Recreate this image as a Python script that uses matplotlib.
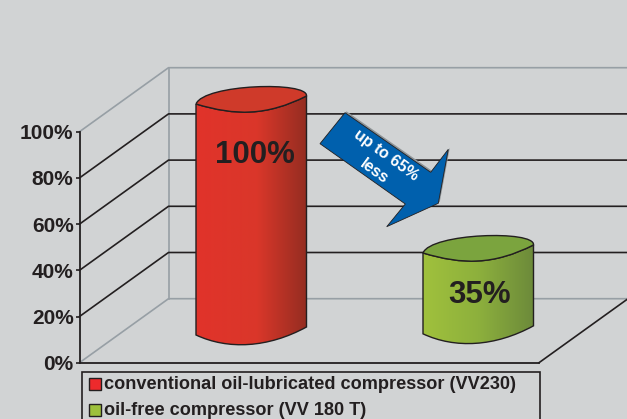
import numpy as np
import matplotlib
matplotlib.use("Agg")
from matplotlib import pyplot as plt
from matplotlib.path import Path
from matplotlib.patches import PathPatch, Polygon, Rectangle
from matplotlib.colors import LinearSegmentedColormap

plt.rcParams['font.family'] = ['Liberation Sans', 'DejaVu Sans']

series_names = ["conventional oil-lubricated compressor (VV230)", "oil-free compressor (VV 180 T)"]
series_values = [100, 35]
value_labels = ["100%", "35%"]
tick_values = [0, 20, 40, 60, 80, 100]
tick_labels = ["0%", "20%", "40%", "60%", "80%", "100%"]

BG = "#d1d3d4"
INK = "#231f20"
WALL = "#979fa5"

# x is in pixels, y in percent; SCALE is pixels per percent
Y0 = 362.7
SCALE = 2.31
DEPTH_X = 89
DEPTH_Y = 64 / SCALE
LEFT, FRONT_RIGHT, FIG_RIGHT = 79.5, 539, 628

fig = plt.figure(figsize=(6.27, 4.19), dpi=100, facecolor=BG)
ax = fig.add_axes([LEFT / 627, (419 - Y0) / 419, (FRONT_RIGHT - LEFT) / 627, SCALE * 100 / 419])
ax.patch.set_alpha(0)
for s in ["top", "right"]:
    ax.spines[s].set_visible(False)
for s in ["left", "bottom"]:
    ax.spines[s].set_linewidth(1.3)
    ax.spines[s].set_color(INK)
    ax.spines[s].set_zorder(3)

# back wall and side wall
back_x = LEFT + DEPTH_X
ax.plot([LEFT, back_x, FIG_RIGHT], [0, DEPTH_Y, DEPTH_Y], color=WALL, lw=1.2, clip_on=False, zorder=1)
ax.plot([LEFT, back_x, FIG_RIGHT], [100, 100 + DEPTH_Y, 100 + DEPTH_Y], color=WALL, lw=1.2, clip_on=False, zorder=1)
ax.plot([back_x, back_x], [DEPTH_Y, 100 + DEPTH_Y], color=WALL, lw=1.2, clip_on=False, zorder=1)
ax.plot([FRONT_RIGHT, FIG_RIGHT], [0, DEPTH_Y], color=INK, lw=1.2, clip_on=False, zorder=1)

# gridlines run along the side wall then across the back
for val in tick_values[1:-1]:
    ax.plot([LEFT, back_x, FIG_RIGHT], [val, val + DEPTH_Y, val + DEPTH_Y], color=INK, lw=1.2, clip_on=False, zorder=2)


def cylinder(x_left, base, value, side_cols, top_col, label, label_dy, label_dx):
    w = 110.5
    slant = 8 / SCALE
    xr = x_left + w
    top = base + value
    u = 1 / SCALE
    side = Path(
        [(x_left, top), (x_left, base),
         (x_left + 32, base - 15 * u), (x_left + 72, base - 13 * u), (xr, base + slant),
         (xr, top + slant),
         (xr - 40, top - 12 * u), (x_left + 40, top - 12 * u), (x_left, top)],
        [Path.MOVETO, Path.LINETO, Path.CURVE4, Path.CURVE4, Path.CURVE4, Path.LINETO,
         Path.CURVE4, Path.CURVE4, Path.CURVE4])
    cap = Path(
        [(x_left, top),
         (x_left + 8, top + 20 * u), (xr + 2, top + 23 * u), (xr, top + slant),
         (xr - 40, top - 12 * u), (x_left + 40, top - 12 * u), (x_left, top)],
        [Path.MOVETO, Path.CURVE4, Path.CURVE4, Path.CURVE4, Path.CURVE4, Path.CURVE4, Path.CURVE4])
    cmap = LinearSegmentedColormap.from_list("side", side_cols)
    grad = np.linspace(0, 1, 256).reshape(1, -1)
    im = ax.imshow(grad, cmap=cmap, aspect="auto", extent=[x_left, xr, base - 15 * u, top + 15 * u],
                   zorder=4, interpolation="bilinear")
    im.set_clip_box(fig.bbox)
    im.set_clip_path(PathPatch(side, transform=ax.transData))
    ax.add_patch(PathPatch(side, facecolor="none", edgecolor=INK, lw=1.0, zorder=5, clip_on=False))
    ax.add_patch(PathPatch(cap, facecolor=top_col, edgecolor=INK, lw=1.0, zorder=5, clip_on=False))
    ax.text(x_left + 59 + label_dx, top - label_dy * u, label, fontsize=22.5, fontweight="bold", color=INK,
            ha="center", va="center", zorder=6, clip_on=False)


cylinder(196, 12, series_values[0], [(0, "#e1332a"), (0.55, "#da372a"), (1, "#942d21")], "#cf3a2a", value_labels[0], 51, 0)
cylinder(423, 12.5, series_values[1], [(0, "#a0c13c"), (0.5, "#8db03d"), (1, "#6c8a3a")], "#7ba43e", value_labels[1], 42, -2)

ax.set_yticks(tick_values)
ax.set_yticklabels(tick_labels, fontsize=15, fontweight="bold", color=INK)
ax.tick_params(axis="y", direction="out", length=3, width=1.2, color=INK, pad=1.3)
ax.set_xticks([])


def v(py):
    return (Y0 - py) / SCALE


# callout arrow between the two bars
arrow_px = [(345, 112.7), (430.7, 172.3), (448.3, 149.3), (438.3, 203.3),
            (386.7, 226.7), (405.3, 204), (320, 143.7)]
pts = [(x, v(y)) for x, y in arrow_px]
shadow = [(x + 1.5, y + 0.6) for x, y in pts]
ax.add_patch(Polygon(shadow, closed=True, facecolor="#8f9598", edgecolor="none", zorder=6, clip_on=False))
ax.add_patch(Polygon(pts, closed=True, facecolor="#0060ad", edgecolor=INK, lw=0.6, zorder=7, clip_on=False))
ax.text(385.7, v(155), "up to 65%", fontsize=11.5, fontweight="bold", color="white", rotation=-36,
        rotation_mode="anchor", ha="center", va="center", zorder=8)
ax.text(374, v(171.7), "less", fontsize=11.5, fontweight="bold", color="white", rotation=-36,
        rotation_mode="anchor", ha="center", va="center", zorder=8)

# legend box, cut off by the bottom edge
ax.add_patch(Rectangle((82, v(425)), 457.5, v(372) - v(425), facecolor=BG, edgecolor=INK, lw=1.2, clip_on=False, zorder=3))
for py, name, col in zip([384, 410], series_names, ["#ed2a2c", "#9dc03b"]):
    ax.add_patch(Rectangle((89, v(py + 6)), 11.5, 12 / SCALE, facecolor=col, edgecolor=INK, lw=1.0, clip_on=False, zorder=4))
    ax.text(104, v(py + 0.5), name, fontsize=13.05, fontweight="bold", color=INK, ha="left", va="center",
            clip_on=False, zorder=4)

ax.set_xlim(LEFT, FRONT_RIGHT)
ax.set_ylim(0, 100)
fig.savefig("out.png", dpi=100, facecolor=BG)
